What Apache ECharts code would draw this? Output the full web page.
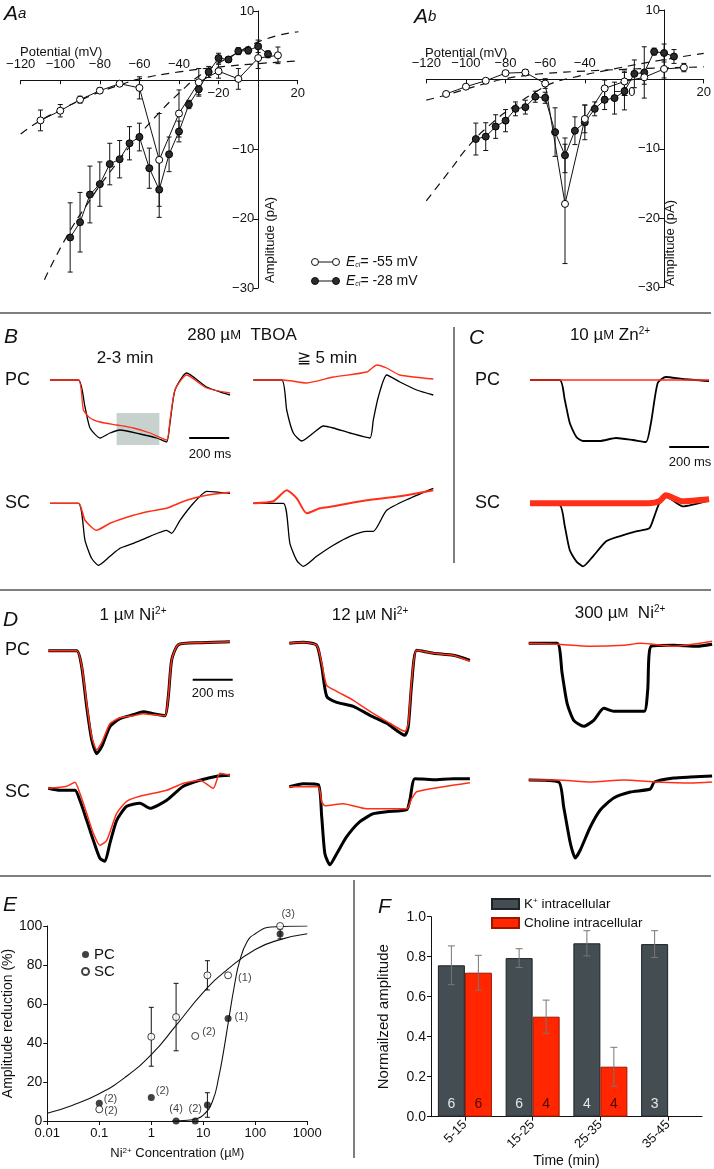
<!DOCTYPE html>
<html><head><meta charset="utf-8">
<script src="https://cdn.jsdelivr.net/npm/echarts@6/dist/echarts.min.js"></script>
<style>html,body{margin:0;padding:0;background:#fff}#c{width:714px;height:1169px}</style>
</head><body><div id="c"></div>
<script>
// ---------------- DATA ----------------
// Panel Aa (I-V)
const aaOpenV = [-110,-100,-90,-80,-70,-60,-50,-40,-30,-20,-10,0,10];
const aaOpenI = [-5.8,-4.4,-2.8,-1.5,-0.5,-1.1,-11.5,-4.8,-0.3,1.3,0.2,3.2,3.6];
const aaOpenErr = [1.5,0.9,0.5,0.4,0.2,1.6,6.7,3.4,2.0,1.0,1.5,1.5,1.2];
const aaFillV = [-95,-90,-85,-80,-75,-70,-65,-60,-55,-50,-45,-40,-35,-30,-25,-20,-15,-10,-5,0,5];
const aaFillI = [-22.7,-20.5,-16.5,-15.0,-12.1,-11.4,-9.1,-8.2,-12.7,-15.8,-10.7,-7.4,-3.5,-1.3,1.2,3.2,3.0,4.2,4.3,4.9,3.75];
const aaFillErr = [5.0,4.3,4.1,3.2,3.0,2.7,2.4,2.0,2.9,4.0,2.5,1.5,0.6,0.8,0.8,0.7,0.4,0.5,0.5,0.9,0.5];
const aaFitSteepV = [-108,-97,-85,-75,-62,-51,-39,-29,-12.5,4.4,20.4];
const aaFitSteepI = [-28.8,-22.7,-17.3,-13.3,-8.6,-5.0,-1.6,0.8,3.65,6.0,7.0];
const aaFitFlatV = [-120,-110,-100,-90,-80,-70,-60,-40,-20,0,20];
const aaFitFlatI = [-7.75,-5.8,-4.3,-2.9,-1.7,-0.7,0.2,1.2,1.9,2.4,2.8];
// Panel Ab (I-V)
const abOpenV = [-110,-100,-90,-80,-70,-60,-50,-40,-30,-20,-10,0,10];
const abOpenI = [-2.1,-1.05,-0.2,0.9,1.0,-0.6,-17.95,-5.7,-1.3,-0.3,0.3,1.5,1.7];
const abOpenErr = [0.3,0.3,0.3,0.3,0.4,0.7,8.6,2.0,1.2,1.5,1.0,1.3,0.6];
const abFillV = [-95,-90,-85,-80,-75,-70,-65,-60,-55,-50,-45,-40,-35,-30,-25,-20,-15,-10,-5,0,5];
const abFillI = [-8.6,-8.25,-6.8,-5.95,-4.25,-4.0,-2.5,-2.65,-7.6,-10.95,-7.4,-6.2,-4.25,-2.95,-2.7,-1.7,0.8,1.0,4.0,3.8,3.3];
const abFillErr = [2.3,2.0,1.7,1.6,1.0,1.0,0.8,0.8,3.5,2.5,2.0,2.5,1.0,1.4,2.3,2.7,2.0,3.7,0.5,1.3,1.0];
const abFitSteepV = [-120,-108,-98,-88,-76,-63,-56,-44,-29,-7,20];
const abFitSteepI = [-17.5,-13.1,-9.4,-6.6,-3.9,-1.5,-0.5,0.4,1.3,2.5,3.76];
const abFitFlatV = [-120,-110,-100,-90,-80,-70,-60,-40,-20,0,20];
const abFitFlatI = [-3.0,-2.25,-1.4,-0.6,0.1,0.55,0.85,1.2,1.45,1.65,1.8];
const potentialTicksTop = [-120,-100,-80,-60,-40];
const potentialTicksBottom = [-20,20];
const amplitudeTicks = [10,-10,-20,-30];

// Traces: [time (ms), amplitude (a.u., baseline = 0)]
const bPcLeftBlack = [[0,0],[142,0],[175,-27],[200,-48],[250,-58],[300,-53],[350,-50],[450,-54],[533,-58],[583,-62],[600,-43],[625,-10],[683,7],[783,-7],[900,-15]];
const bPcLeftRed = [[0,0],[142,0],[167,-30],[200,-38],[250,-42],[333,-45],[417,-48],[500,-53],[583,-60],[600,-40],[625,-10],[683,5],[783,-8],[900,-13]];
const bPcRightBlack = [[0,0],[142,0],[167,-30],[200,-53],[242,-61],[300,-53],[350,-46],[400,-48],[483,-53],[583,-58],[600,-40],[625,-17],[667,5],[733,-2],[817,-10],[900,-15]];
const bPcRightRed = [[0,0],[150,0],[267,-3],[400,3],[567,8],[617,15],[667,12],[733,5],[900,1]];
const bScLeftBlack = [[0,0],[142,0],[175,-37],[208,-55],[242,-62],[300,-53],[350,-45],[417,-40],[500,-33],[583,-27],[608,-30],[650,-17],[717,0],[783,12],[900,10]];
const bScLeftRed = [[0,0],[142,0],[175,-17],[233,-27],[300,-20],[417,-12],[500,-8],[583,-5],[683,3],[783,8],[900,11]];
const bScRightBlack = [[0,0],[150,0],[183,-40],[217,-57],[250,-63],[317,-53],[400,-42],[483,-33],[567,-28],[600,-28],[667,-7],[783,5],[900,15]];
const bScRightRed = [[0,0],[100,2],[167,13],[217,5],[267,-10],[333,-5],[400,-3],[567,3],[733,7],[900,13]];
const cPcBlack = [[0,0],[150,0],[175,-20],[200,-43],[233,-57],[267,-61],[350,-61],[433,-58],[517,-60],[583,-62],[608,-43],[642,-3],[683,3],[767,1],[900,-1]];
const cPcRed = [[0,0],[300,0],[600,0],[900,0]];
const cScBlack = [[0,0],[150,-2],[175,-23],[200,-47],[233,-58],[267,-63],[317,-53],[383,-38],[450,-33],[533,-28],[600,-25],[625,-13],[650,0],[683,7],[767,-3],[900,3]];
const cScRed = [[0,0],[150,0],[300,0],[450,0],[600,0],[650,2],[683,8],[767,2],[900,4]];
const d1PcBlack = [[0,0],[142,0],[167,-16],[192,-56],[217,-89],[242,-103],[267,-96],[308,-76],[358,-68],[425,-64],[475,-61],[525,-63],[583,-65],[600,-46],[617,-9],[650,6],[758,8],[908,9]];
const d1PcRed = [[0,0],[142,0],[167,-15],[192,-53],[217,-86],[242,-99],[267,-92],[308,-73],[358,-67],[425,-65],[475,-63],[525,-64],[583,-65],[600,-46],[617,-9],[650,6],[758,8],[908,9]];
const d1ScBlack = [[0,0],[58,-2],[133,-2],[158,-12],[192,-32],[225,-52],[258,-70],[283,-73],[308,-55],[342,-32],[392,-18],[458,-15],[508,-20],[592,-12],[675,2],[758,8],[842,12],[908,13]];
const d1ScRed = [[0,0],[92,2],[133,6],[158,-5],[192,-25],[225,-45],[258,-57],[292,-52],[342,-25],[392,-13],[458,-8],[592,-2],[675,5],[758,8],[825,0],[858,15],[908,13]];
const d12PcBlack = [[0,0],[70,1],[137,-2],[162,-23],[187,-53],[237,-59],[320,-63],[403,-72],[487,-80],[578,-92],[595,-83],[612,-40],[637,-7],[720,-10],[820,-12],[903,-17]];
const d12PcRed = [[0,0],[70,1],[137,-2],[162,-20],[187,-42],[237,-48],[320,-57],[403,-68],[487,-78],[578,-88],[595,-80],[612,-37],[637,-7],[720,-10],[820,-12],[903,-18]];
const d12ScBlack = [[0,0],[70,3],[145,2],[162,-30],[178,-67],[203,-78],[237,-67],[287,-50],[353,-35],[420,-27],[487,-25],[587,-23],[603,-13],[628,8],[720,7],[820,8],[903,8]];
const d12ScRed = [[0,0],[70,0],[145,0],[162,-15],[178,-19],[270,-17],[387,-22],[587,-22],[612,-12],[637,-5],[770,0],[903,4]];
const d300PcBlack = [[0,0],[142,0],[167,-30],[192,-60],[225,-77],[275,-83],[325,-77],[375,-65],[425,-68],[508,-68],[578,-68],[595,-47],[612,-3],[725,-2],[842,-3],[917,-1]];
const d300PcRed = [[0,0],[142,-1],[308,-3],[475,-2],[558,0],[725,-3],[917,2]];
const d300ScBlack = [[0,0],[150,-2],[175,-27],[208,-63],[233,-78],[258,-70],[308,-47],[358,-30],[425,-18],[508,-12],[608,-9],[628,-2],[725,2],[808,3],[917,4]];
const d300ScRed = [[0,0],[142,0],[308,-2],[475,0],[642,-2],[808,-3],[917,-2]];
const scaleBarMs = 200;
const scaleBarB = [696,-58];   // start time (ms), level
const scaleBarC = [700,-67];
const scaleBarD = [722,-29];
const bGrayBox = [333,547,-33,-65]; // t1, t2, a1, a2

// Panel E
const eConc = [0.1,1,3,7,12,30,300];
const ePC = [9.1,12.1,0,0,8.2,52.6,95.9];
const ePCErr = [0,0,0,0,6.3,0,2.5];
const eSC = [6.0,43.2,53.3,43.6,74.7,74.7,100];
const eSCErr = [0,15.1,17.3,0,7.5,0,0];
const ePCn = ['(2)','(2)','(4)','(2)','','(1)',''];
const eSCn = ['(2)','','','(2)','','(1)','(3)'];
const eFitSCConc = [0.01,0.03,0.1,0.3,1,3,10,30,100,300,1000];
const eFitSCVal = [4,8,14,22,34,49,66,78,88,93,96];
const eFitPCConc = [2.5,5,7,10,15,20,25,30,40,50,70,100,200,1000];
const eFitPCVal = [0,0.4,1,3,10,23,37,50,70,82,92,96,99.5,100];
const eConcTicks = ['0.01','0.1','1','10','100','1000'];

// Panel F
const fTimes = ['5-15','15-25','25-35','35-45'];
const fK = [0.757,0.793,0.867,0.863];
const fKErr = [0.097,0.047,0.063,0.067];
const fCh = [0.72,0.50,0.25,null];
const fChErr = [0.087,0.083,0.097,null];
const fKn = [6,6,4,3];
const fChn = [6,4,4,null];

// ---------------- BUILD ----------------
const FF = '"Liberation Sans", Arial, Helvetica, sans-serif';
const RED = '#ff2f17';
const INK = '#111';
const pairs = (xs, ys) => xs.map((x, i) => [x, ys[i]]);
const triples = (xs, ys, es) => xs.map((x, i) => [x, ys[i], es[i]]);
const minus = v => (v < 0 ? '\u2212' : '') + Math.abs(v);

function errRender(color, cap, offset) {
  return function (params, api) {
    const x = api.value(0), y = api.value(1), e = api.value(2);
    if (!(e > 0)) return null;
    const a = api.coord([x, y + e]), b = api.coord([x, y - e]);
    const dx = offset || 0;
    const st = { stroke: color, lineWidth: 1 };
    return { type: 'group', children: [
      { type: 'line', shape: { x1: a[0] + dx, y1: a[1], x2: b[0] + dx, y2: b[1] }, style: st },
      { type: 'line', shape: { x1: a[0] + dx - cap, y1: a[1], x2: a[0] + dx + cap, y2: a[1] }, style: st },
      { type: 'line', shape: { x1: b[0] + dx - cap, y1: b[1], x2: b[0] + dx + cap, y2: b[1] }, style: st }
    ]};
  };
}

const grid = [], xAxis = [], yAxis = [], series = [];
const axisLineStyle = { show: true, onZero: false, lineStyle: { color: INK, width: 1 } };
const labelFont = { fontSize: 13, fontFamily: FF, color: INK };

function addGrid(box, xa, ya) {
  const gi = grid.length;
  grid.push(box);
  xAxis.push(Object.assign({ gridIndex: gi, type: 'value' }, xa));
  yAxis.push(Object.assign({ gridIndex: gi, type: 'value' }, ya));
  return [xAxis.length - 1, yAxis.length - 1];
}
const hiddenAxis = (min, max) => ({ min, max, show: false });

// ---- Panel A (two I-V plots) ----
function addIV(b, d) {
  const V0 = -120, V1 = 20, I0 = -30, I1 = 10;
  const [xi, yi] = addGrid(b, hiddenAxis(V0, V1), hiddenAxis(I0, I1));
  const x0 = b.left + (0 - V0) / (V1 - V0) * b.width;     // pixel of V = 0
  const y0 = b.top + (I1 - 0) / (I1 - I0) * b.height;     // pixel of I = 0
  // axis line at I = 0 with labels above (lower helper grid, axis on its top edge)
  addGrid({ left: b.left, top: y0, width: b.width, height: b.top + b.height - y0 },
    { position: 'top', min: V0, max: V1, interval: 20, axisLine: axisLineStyle, axisTick: { show: false },
      splitLine: { show: false },
      axisLabel: Object.assign({ margin: 9, formatter: v => potentialTicksTop.indexOf(v) >= 0 ? minus(v) : '' }, labelFont) },
    hiddenAxis(I0, 0));
  // ticks + labels below the I = 0 line (upper helper grid, axis on its bottom edge)
  addGrid({ left: b.left, top: b.top, width: b.width, height: y0 - b.top },
    { position: 'bottom', min: V0, max: V1, interval: 20, axisLine: { show: false, onZero: false },
      axisTick: { show: true, length: 4, lineStyle: { color: INK } }, splitLine: { show: false },
      axisLabel: Object.assign({ margin: 7, formatter: v => potentialTicksBottom.indexOf(v) >= 0 ? minus(v) : '' }, labelFont) },
    hiddenAxis(0, I1));
  // amplitude axis at V = 0 (right helper grid, axis on its left edge)
  addGrid({ left: x0, top: b.top, width: b.left + b.width - x0, height: b.height },
    hiddenAxis(0, V1),
    { position: 'left', min: I0, max: I1, interval: 10, axisLine: axisLineStyle,
      axisTick: { show: true, length: 5, lineStyle: { color: INK } }, splitLine: { show: false },
      axisLabel: Object.assign({ margin: 4, formatter: v => amplitudeTicks.indexOf(v) >= 0 ? minus(v) : '' }, labelFont) });
  const base = { xAxisIndex: xi, yAxisIndex: yi, silent: true };
  series.push(Object.assign({ type: 'line', data: pairs(d.steepV, d.steepI), symbol: 'none', smooth: true,
    lineStyle: { color: INK, width: 1.2, type: [8, 6] }, z: 2 }, base));
  series.push(Object.assign({ type: 'line', data: pairs(d.flatV, d.flatI), symbol: 'none', smooth: true,
    lineStyle: { color: INK, width: 1.2, type: [8, 6] }, z: 2 }, base));
  series.push(Object.assign({ type: 'custom', renderItem: errRender(INK, 2.5), encode: { x: 0, y: 1 },
    data: triples(d.fillV, d.fillI, d.fillErr), z: 3 }, base));
  series.push(Object.assign({ type: 'custom', renderItem: errRender(INK, 2.5), encode: { x: 0, y: 1 },
    data: triples(d.openV, d.openI, d.openErr), z: 3 }, base));
  series.push(Object.assign({ type: 'line', data: pairs(d.fillV, d.fillI), symbol: 'circle', symbolSize: 7,
    showAllSymbol: true, lineStyle: { color: INK, width: 1 },
    itemStyle: { color: '#2b2b2b', borderColor: '#000', borderWidth: 1 }, z: 4 }, base));
  series.push(Object.assign({ type: 'line', data: pairs(d.openV, d.openI), symbol: 'circle', symbolSize: 7,
    showAllSymbol: true, lineStyle: { color: INK, width: 1 },
    itemStyle: { color: '#fff', borderColor: '#000', borderWidth: 1 }, z: 5 }, base));
}
addIV({ left: 20.7, top: 11, width: 277, height: 277 },
  { openV: aaOpenV, openI: aaOpenI, openErr: aaOpenErr, fillV: aaFillV, fillI: aaFillI, fillErr: aaFillErr,
    steepV: aaFitSteepV, steepI: aaFitSteepI, flatV: aaFitFlatV, flatI: aaFitFlatI });
addIV({ left: 426.3, top: 10, width: 277.4, height: 277.5 },
  { openV: abOpenV, openI: abOpenI, openErr: abOpenErr, fillV: abFillV, fillI: abFillI, fillErr: abFillErr,
    steepV: abFitSteepV, steepI: abFitSteepI, flatV: abFitFlatV, flatI: abFitFlatI });

// ---- Panel E ----
const [eXi, eYi] = addGrid({ left: 41.7, top: 926, width: 265.6, height: 195 },
  { type: 'log', logBase: 10, min: 0.01, max: 1000, splitNumber: 5,
    name: 'Ni{sup|2+} Concentration (µ{sm|M})', nameLocation: 'middle', nameGap: 26,
    nameTextStyle: { fontSize: 13, fontFamily: FF, color: INK,
      rich: { sup: { fontSize: 8, fontFamily: FF, color: INK, verticalAlign: 'top', lineHeight: 8 },
              sm: { fontSize: 10, fontFamily: FF, color: INK } } },
    axisLine: axisLineStyle, axisTick: { show: true, length: 4, lineStyle: { color: INK } },
    minorTick: { show: false }, splitLine: { show: false },
    axisLabel: Object.assign({ margin: 6,
      formatter: v => { const s = String(Number(Number(v).toPrecision(2))); return eConcTicks.indexOf(s) >= 0 ? s : ''; } }, labelFont) },
  { min: 0, max: 100, interval: 20,
    name: 'Amplitude reduction (%)', nameLocation: 'middle', nameGap: 28,
    nameTextStyle: { fontSize: 14, fontFamily: FF, color: INK },
    axisLine: axisLineStyle, axisTick: { show: true, length: 4, lineStyle: { color: INK } }, splitLine: { show: false },
    axisLabel: { fontSize: 14, fontFamily: FF, color: INK, margin: 5 } });
series.push({ type: 'line', xAxisIndex: eXi, yAxisIndex: eYi, data: pairs(eFitSCConc, eFitSCVal), symbol: 'none',
  smooth: true, lineStyle: { color: INK, width: 1.1 }, z: 2, silent: true });
series.push({ type: 'line', xAxisIndex: eXi, yAxisIndex: eYi, data: pairs(eFitPCConc, eFitPCVal), symbol: 'none',
  smooth: true, lineStyle: { color: INK, width: 1.1 }, z: 2, silent: true });
series.push({ type: 'custom', xAxisIndex: eXi, yAxisIndex: eYi, renderItem: errRender(INK, 2.5),
  encode: { x: 0, y: 1 }, data: triples(eConc, ePC, ePCErr), z: 3, silent: true });
series.push({ type: 'custom', xAxisIndex: eXi, yAxisIndex: eYi, renderItem: errRender(INK, 2.5),
  encode: { x: 0, y: 1 }, data: triples(eConc, eSC, eSCErr), z: 3, silent: true });
const pcLabPos = [['right',[-2,-4]],['right',[-2,-6]],['top',[0,0]],['top',[0,0]],null,['right',[0,-1]],null];
const scLabPos = [['right',[-2,2]],null,null,['right',[0,-4]],null,['right',[3,3]],['top',[8,0]]];
const labelItem = (txt, pos) => txt ? { show: true, formatter: txt, position: pos[0], offset: pos[1],
  fontSize: 11, fontFamily: FF, color: INK, distance: 3 } : { show: false };
series.push({ type: 'scatter', name: 'PC', xAxisIndex: eXi, yAxisIndex: eYi, symbolSize: 7, z: 4, silent: true,
  itemStyle: { color: INK },
  data: eConc.map((c, i) => ({ value: [c, ePC[i]], label: labelItem(ePCn[i], pcLabPos[i]) })) });
series.push({ type: 'scatter', name: 'SC', xAxisIndex: eXi, yAxisIndex: eYi, symbolSize: 7, z: 5, silent: true,
  itemStyle: { color: '#fff', borderColor: INK, borderWidth: 1 },
  data: eConc.map((c, i) => ({ value: [c, eSC[i]], label: labelItem(eSCn[i], scLabPos[i]) })) });

// ---- Panel F ----
const [fXi, fYi] = addGrid({ left: 431, top: 916.7, width: 271, height: 200 },
  { type: 'category', data: fTimes,
    name: 'Time (min)', nameLocation: 'middle', nameGap: 36,
    nameTextStyle: { fontSize: 14, fontFamily: FF, color: INK },
    axisLine: axisLineStyle, axisTick: { show: true, alignWithLabel: true, length: 4, lineStyle: { color: INK } },
    axisLabel: { rotate: 45, fontSize: 13, fontFamily: FF, color: INK, margin: 6 } },
  { min: 0, max: 1, interval: 0.2,
    name: 'Normailzed amplitude', nameLocation: 'middle', nameGap: 40,
    nameTextStyle: { fontSize: 15, fontFamily: FF, color: INK },
    axisLine: axisLineStyle, axisTick: { show: true, length: 4, lineStyle: { color: INK } }, splitLine: { show: false },
    axisLabel: { fontSize: 14, fontFamily: FF, color: INK, margin: 5, formatter: v => v.toFixed(1) } });
series.push({ type: 'bar', name: 'K+ intracellular', xAxisIndex: fXi, yAxisIndex: fYi, data: fK,
  barWidth: 27, barGap: '0%', silent: true,
  itemStyle: { color: '#434d52', borderColor: '#1d2326', borderWidth: 1 },
  label: { show: true, position: 'insideBottom', distance: 6, fontSize: 14, fontFamily: FF, color: '#e6e6e6',
    formatter: p => String(fKn[p.dataIndex]) } });
series.push({ type: 'bar', name: 'Choline intracellular', xAxisIndex: fXi, yAxisIndex: fYi, data: fCh,
  barWidth: 27, barGap: '0%', silent: true,
  itemStyle: { color: '#ff2600', borderColor: '#9a1600', borderWidth: 1 },
  label: { show: true, position: 'insideBottom', distance: 6, fontSize: 14, fontFamily: FF, color: '#4d0800',
    formatter: p => fChn[p.dataIndex] == null ? '' : String(fChn[p.dataIndex]) } });
series.push({ type: 'custom', xAxisIndex: fXi, yAxisIndex: fYi, renderItem: errRender('#777', 3.5, -13.5),
  encode: { x: 0, y: 1 }, data: fK.map((v, i) => [i, v, fKErr[i]]), z: 5, silent: true });
series.push({ type: 'custom', xAxisIndex: fXi, yAxisIndex: fYi, renderItem: errRender('#777', 3.5, 13.5),
  encode: { x: 0, y: 1 }, data: fCh.map((v, i) => v == null ? [i, 0, 0] : [i, v, fChErr[i]]), z: 5, silent: true });

// ---- Traces (panels B, C, D) ----
const traces = [
  { x0: 50, base: 380, k: bPcLeftBlack, r: bPcLeftRed, kw: 1.3, rw: 1.3 },
  { x0: 253.3, base: 380, k: bPcRightBlack, r: bPcRightRed, kw: 1.3, rw: 1.3 },
  { x0: 50, base: 503.3, k: bScLeftBlack, r: bScLeftRed, kw: 1.3, rw: 1.6 },
  { x0: 253.3, base: 503.3, k: bScRightBlack, r: bScRightRed, kw: 1.3, rw: 2 },
  { x0: 530, base: 380, k: cPcBlack, r: cPcRed, kw: 1.8, rw: 1.3 },
  { x0: 530, base: 503.3, k: cScBlack, r: cScRed, kw: 1.8, rw: 6 },
  { x0: 48.3, base: 650.7, k: d1PcBlack, r: d1PcRed, kw: 3, rw: 1.5 },
  { x0: 48.3, base: 788.3, k: d1ScBlack, r: d1ScRed, kw: 3, rw: 1.5 },
  { x0: 289.3, base: 643.3, k: d12PcBlack, r: d12PcRed, kw: 3, rw: 1.5 },
  { x0: 289.3, base: 786.7, k: d12ScBlack, r: d12ScRed, kw: 3, rw: 1.5 },
  { x0: 528.7, base: 643.3, k: d300PcBlack, r: d300PcRed, kw: 3, rw: 1.5 },
  { x0: 528.7, base: 780, k: d300ScBlack, r: d300ScRed, kw: 3, rw: 1.5 }
];
const traceAxes = [];
traces.forEach(t => {
  const [xi, yi] = addGrid({ left: t.x0, top: t.base - 30, width: 185, height: 140 },
    hiddenAxis(0, 925), hiddenAxis(-110, 30));
  traceAxes.push([xi, yi]);
  series.push({ type: 'line', xAxisIndex: xi, yAxisIndex: yi, data: t.k, symbol: 'none', smooth: 0.2,
    lineStyle: { color: '#000', width: t.kw }, z: 3, silent: true });
  series.push({ type: 'line', xAxisIndex: xi, yAxisIndex: yi, data: t.r, symbol: 'none', smooth: 0.2,
    lineStyle: { color: RED, width: t.rw }, z: 4, silent: true });
});
function scaleBar(ti, sb) {
  series.push({ type: 'line', xAxisIndex: traceAxes[ti][0], yAxisIndex: traceAxes[ti][1],
    data: [[sb[0], sb[1]], [sb[0] + scaleBarMs, sb[1]]], symbol: 'none',
    lineStyle: { color: '#000', width: 2 }, z: 5, silent: true });
}
scaleBar(0, scaleBarB); scaleBar(4, scaleBarC); scaleBar(6, scaleBarD);
// grey highlighted window in B
series.push({ type: 'line', xAxisIndex: traceAxes[0][0], yAxisIndex: traceAxes[0][1], data: [], z: 1, silent: true,
  markArea: { silent: true, itemStyle: { color: '#c7d1ce' },
    data: [[{ coord: [bGrayBox[0], bGrayBox[2]] }, { coord: [bGrayBox[1], bGrayBox[3]] }]] } });

// ---------------- GRAPHIC (labels, separators) ----------------
function txt(x, y, text, size, extra) {
  return { type: 'text', x, y, silent: true, style: Object.assign({ text, fontSize: size, fontFamily: FF,
    fill: INK, align: 'left', verticalAlign: 'middle' }, extra || {}) };
}
const richUnits = (size) => ({
  sm: { fontSize: Math.round(size * 0.75), fontFamily: FF, fill: INK },
  sup: { fontSize: Math.round(size * 0.6), fontFamily: FF, fill: INK, verticalAlign: 'top', lineHeight: Math.round(size * 0.6) }
});
const italic = (x, y, t, s) => txt(x, y, t, s || 21, { fontStyle: 'italic' });
function hline(x1, y1, x2, y2) {
  return { type: 'line', silent: true, shape: { x1, y1, x2, y2 }, style: { stroke: '#555', lineWidth: 1.5 } };
}
const legendA = (y, filled, label) => ([
  { type: 'line', silent: true, shape: { x1: 315, y1: y, x2: 336, y2: y }, style: { stroke: INK, lineWidth: 1 } },
  { type: 'circle', silent: true, shape: { cx: 315, cy: y, r: 3.5 }, style: { fill: filled ? '#2b2b2b' : '#fff', stroke: INK, lineWidth: 1 } },
  { type: 'circle', silent: true, shape: { cx: 336, cy: y, r: 3.5 }, style: { fill: filled ? '#2b2b2b' : '#fff', stroke: INK, lineWidth: 1 } },
  txt(346, y, '{e|E}{s|cl}' + label, 14, { rich: {
    e: { fontSize: 14, fontStyle: 'italic', fontFamily: FF, fill: INK },
    s: { fontSize: 7, fontStyle: 'italic', fontFamily: FF, fill: INK, verticalAlign: 'bottom', lineHeight: 7 } } })
]);
const graphic = [
  txt(4, 14, '{A|A}{a|a}', 20, { rich: { A: { fontSize: 21, fontStyle: 'italic', fontFamily: FF, fill: INK },
    a: { fontSize: 15, fontStyle: 'italic', fontFamily: FF, fill: INK } } }),
  txt(414, 17, '{A|A}{a|b}', 20, { rich: { A: { fontSize: 21, fontStyle: 'italic', fontFamily: FF, fill: INK },
    a: { fontSize: 15, fontStyle: 'italic', fontFamily: FF, fill: INK } } }),
  txt(20, 52, 'Potential (mV)', 13),
  txt(425, 53, 'Potential (mV)', 13),
  Object.assign(txt(270, 240, 'Amplitude (pA)', 13, { align: 'center' }), { rotation: Math.PI / 2 }),
  Object.assign(txt(670, 243, 'Amplitude (pA)', 13, { align: 'center' }), { rotation: Math.PI / 2 }),
  ...legendA(262, false, '= -55 mV'),
  ...legendA(281, true, '= -28 mV'),
  hline(0, 313, 711, 313), hline(0, 590, 711, 590), hline(0, 876, 711, 876),
  hline(454, 327, 454, 563), hline(354, 880, 354, 1158),
  // B
  italic(4, 337, 'B'),
  txt(242, 335, '280 µ{sm|M}  TBOA', 17, { align: 'center', rich: richUnits(17) }),
  txt(125, 358, '2-3 min', 17, { align: 'center' }),
  txt(327, 358, '≧ 5 min', 17, { align: 'center' }),
  txt(5, 380, 'PC', 18), txt(5, 503, 'SC', 18),
  txt(210, 454, '200 ms', 13, { align: 'center' }),
  // C
  italic(469, 338, 'C'),
  txt(610, 335, '10 µ{sm|M} Zn{sup|2+}', 17, { align: 'center', rich: richUnits(17) }),
  txt(475, 380, 'PC', 18), txt(475, 503, 'SC', 18),
  txt(690, 462, '200 ms', 13, { align: 'center' }),
  // D
  italic(3, 620, 'D'),
  txt(133, 615, '1 µ{sm|M} Ni{sup|2+}', 17, { align: 'center', rich: richUnits(17) }),
  txt(370, 615, '12 µ{sm|M} Ni{sup|2+}', 17, { align: 'center', rich: richUnits(17) }),
  txt(620, 613, '300 µ{sm|M}  Ni{sup|2+}', 17, { align: 'center', rich: richUnits(17) }),
  txt(5, 650, 'PC', 18), txt(5, 792, 'SC', 18),
  txt(213, 693, '200 ms', 13, { align: 'center' }),
  // E, F
  italic(3, 905, 'E'),
  italic(378, 907, 'F')
];

const option = {
  animation: false,
  backgroundColor: '#fff',
  textStyle: { fontFamily: FF },
  grid, xAxis, yAxis, series, graphic,
  legend: [
    { data: ['PC', 'SC'], orient: 'vertical', left: 76, top: 942, itemGap: 2, itemWidth: 7, itemHeight: 7,
      icon: 'circle', selectedMode: false, textStyle: { fontSize: 15, fontFamily: FF, color: INK } },
    { data: ['K+ intracellular', 'Choline intracellular'], orient: 'vertical', left: 486, top: 892,
      itemGap: 5, itemWidth: 27, itemHeight: 10, icon: 'rect', selectedMode: false,
      formatter: n => n === 'K+ intracellular' ? 'K{sup|+} intracellular' : n,
      textStyle: { fontSize: 13.5, fontFamily: FF, color: INK,
        rich: { sup: { fontSize: 8, fontFamily: FF, color: INK, verticalAlign: 'top', lineHeight: 8 } } } }
  ]
};
const chart = echarts.init(document.getElementById('c'), null, { renderer: 'canvas' });
chart.setOption(option);
</script></body></html>
